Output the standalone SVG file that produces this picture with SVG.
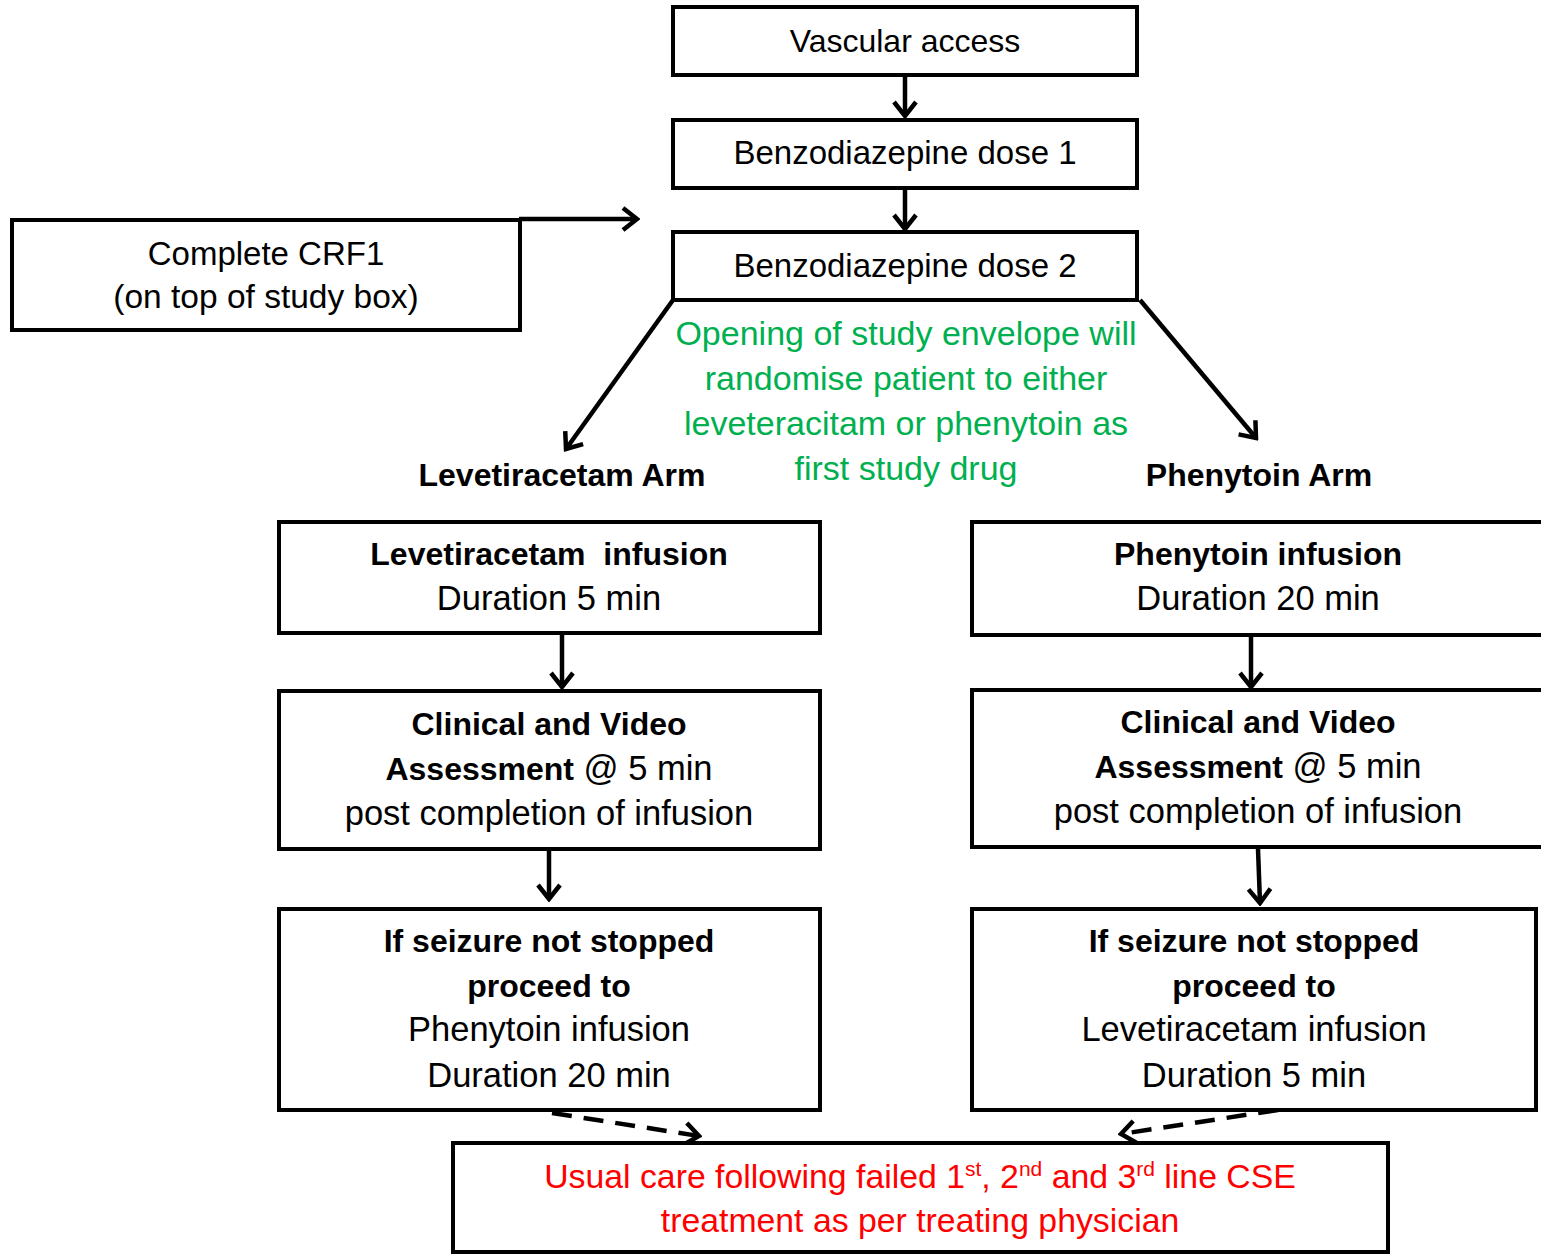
<svg xmlns="http://www.w3.org/2000/svg" width="1541" height="1255" viewBox="0 0 1541 1255">
<style>
.box{fill:#fff;stroke:#000;stroke-width:4}
.t{font-family:"Liberation Sans",Arial,sans-serif;text-anchor:middle;fill:#000}
.r{font-size:34.5px}
.b{font-size:32px;font-weight:bold}
.g{font-size:34px;fill:#00B050}
.red{font-size:33.8px;fill:#FF0000}
.c{fill:none;stroke:#000;stroke-width:4.5}
.d{stroke-dasharray:20 12}
</style>
<defs>
<marker id="ah" viewBox="0 0 20 28" refX="17" refY="14" markerWidth="20" markerHeight="28" markerUnits="userSpaceOnUse" orient="auto">
<path d="M3,3 L17,14 L3,25" fill="none" stroke="#000" stroke-width="4.5"/>
</marker>
</defs>
<rect width="1541" height="1255" fill="#fff"/>
<g id="connectors">
<line class="c" x1="905" y1="76" x2="905" y2="116" marker-end="url(#ah)"/>
<line class="c" x1="905" y1="189" x2="905" y2="229" marker-end="url(#ah)"/>
<line class="c" x1="519" y1="219" x2="637" y2="219" marker-end="url(#ah)"/>
<line class="c" x1="673" y1="300" x2="566" y2="449" marker-end="url(#ah)"/>
<line class="c" x1="1140" y1="300" x2="1256" y2="438" marker-end="url(#ah)"/>
<line class="c" x1="562" y1="634" x2="562" y2="687" marker-end="url(#ah)"/>
<line class="c" x1="549" y1="851" x2="549" y2="899" marker-end="url(#ah)"/>
<line class="c" x1="1251" y1="636" x2="1251" y2="687" marker-end="url(#ah)"/>
<line class="c" x1="1258" y1="849" x2="1260" y2="903" marker-end="url(#ah)"/>
<line class="c d" x1="552" y1="1113" x2="699" y2="1136" marker-end="url(#ah)"/>
<line class="c d" x1="1278" y1="1110" x2="1121" y2="1134" marker-end="url(#ah)"/>
</g>
<g id="vascular">
<rect class="box" x="673" y="7" width="464" height="68"/>
<text class="t" x="905" y="52" style="font-size:32px">Vascular access</text>
</g>
<g id="benzo1">
<rect class="box" x="673" y="120" width="464" height="68"/>
<text class="t" x="905" y="164" style="font-size:33px">Benzodiazepine dose 1</text>
</g>
<g id="benzo2">
<rect class="box" x="673" y="232" width="464" height="68"/>
<text class="t" x="905" y="277" style="font-size:33px">Benzodiazepine dose 2</text>
</g>
<g id="crf1">
<rect class="box" x="12" y="220" width="508" height="110"/>
<text class="t" x="266" y="265" style="font-size:33px">Complete CRF1</text>
<text class="t" x="266" y="308" style="font-size:33.5px">(on top of study box)</text>
</g>
<g id="randomise-note">
<text class="t g" x="906" y="345">Opening of study envelope will</text>
<text class="t g" x="906" y="390">randomise patient to either</text>
<text class="t g" x="906" y="435">leveteracitam or phenytoin as</text>
<text class="t g" x="906" y="480">first study drug</text>
</g>
<g id="lev-arm-label">
<text class="t b" x="562" y="486">Levetiracetam Arm</text>
</g>
<g id="phe-arm-label">
<text class="t b" x="1259" y="486">Phenytoin Arm</text>
</g>
<g id="lev-infusion">
<rect class="box" x="279" y="522" width="541" height="111"/>
<text class="t b" x="549" y="565" xml:space="preserve">Levetiracetam  infusion</text>
<text class="t r" x="549" y="610">Duration 5 min</text>
</g>
<g id="lev-assessment">
<rect class="box" x="279" y="691" width="541" height="158"/>
<text class="t b" x="549" y="735">Clinical and Video</text>
<text class="t r" x="549" y="780"><tspan font-weight="bold" font-size="32px">Assessment</tspan> @ 5 min</text>
<text class="t r" x="549" y="825">post completion of infusion</text>
</g>
<g id="lev-escalate">
<rect class="box" x="279" y="909" width="541" height="201"/>
<text class="t b" x="549" y="952">If seizure not stopped</text>
<text class="t b" x="549" y="997">proceed to</text>
<text class="t r" x="549" y="1041">Phenytoin infusion</text>
<text class="t r" x="549" y="1087">Duration 20 min</text>
</g>
<g id="phe-infusion">
<rect class="box" x="972" y="522" width="580" height="113"/>
<text class="t b" x="1258" y="565">Phenytoin infusion</text>
<text class="t r" x="1258" y="610">Duration 20 min</text>
</g>
<g id="phe-assessment">
<rect class="box" x="972" y="690" width="580" height="157"/>
<text class="t b" x="1258" y="733">Clinical and Video</text>
<text class="t r" x="1258" y="778"><tspan font-weight="bold" font-size="32px">Assessment</tspan> @ 5 min</text>
<text class="t r" x="1258" y="823">post completion of infusion</text>
</g>
<g id="phe-escalate">
<rect class="box" x="972" y="909" width="564" height="201"/>
<text class="t b" x="1254" y="952">If seizure not stopped</text>
<text class="t b" x="1254" y="997">proceed to</text>
<text class="t r" x="1254" y="1041">Levetiracetam infusion</text>
<text class="t r" x="1254" y="1087">Duration 5 min</text>
</g>
<g id="usual-care">
<rect class="box" x="453" y="1143" width="935" height="109"/>
<text class="t red" x="920" y="1188">Usual care following failed 1<tspan font-size="21px" dy="-12">st</tspan><tspan dy="12">, 2</tspan><tspan font-size="21px" dy="-12">nd</tspan><tspan dy="12"> and 3</tspan><tspan font-size="21px" dy="-12">rd</tspan><tspan dy="12"> line CSE</tspan></text>
<text class="t red" x="920" y="1232">treatment as per treating physician</text>
</g>
</svg>
